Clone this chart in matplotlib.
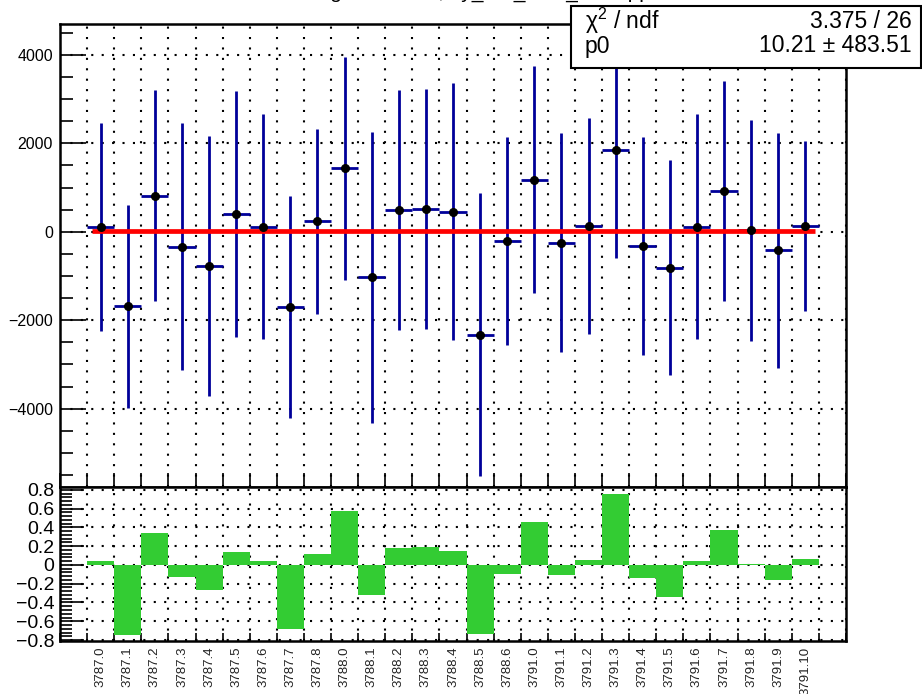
import numpy as np
import matplotlib
matplotlib.use('Agg')
import matplotlib.pyplot as plt
from matplotlib.patches import Rectangle
from matplotlib.ticker import MultipleLocator

plt.rcParams['font.family'] = ['Liberation Sans', 'DejaVu Sans']
plt.rcParams['mathtext.fontset'] = 'custom'
plt.rcParams['mathtext.rm'] = 'Liberation Sans'
plt.rcParams['mathtext.it'] = 'Liberation Sans:italic'

TITLE = "Mean gain vs. run, by_run_mod_ch in pp"

RUN_LABELS = ["3787.0", "3787.1", "3787.2", "3787.3", "3787.4", "3787.5", "3787.6",
              "3787.7", "3787.8", "3788.0", "3788.1", "3788.2", "3788.3", "3788.4",
              "3788.5", "3788.6", "3791.0", "3791.1", "3791.2", "3791.3", "3791.4",
              "3791.5", "3791.6", "3791.7", "3791.8", "3791.9", "3791.10"]
N_BINS = 28

VALUES = [107, -1689, 818, -333, -773, 394, 114, -1697, 235, 1432, -1030, 500, 523, 455,
          -2326, -205, 1182, -242, 136, 1841, -318, -811, 114, 924, 30, -417, 136]
ERRORS = [2349, 2296, 2383, 2784, 2936, 2784, 2542, 2508, 2083, 2519, 3284, 2712, 2712, 2909,
          3197, 2353, 2564, 2474, 2444, 2439, 2466, 2428, 2549, 2485, 2489, 2652, 1917]

# residual / error, one per bin (last bin empty)
PULLS = [0.043, -0.743, 0.341, -0.128, -0.270, 0.142, 0.043, -0.686, 0.114, 0.569, -0.316,
         0.185, 0.192, 0.153, -0.733, -0.096, 0.462, -0.107, 0.057, 0.754, -0.139, -0.338,
         0.046, 0.373, 0.011, -0.164, 0.068, -0.004]

FIT_P0 = 10.21
FIT_P0_ERR = 483.51
CHI2 = 3.375
NDF = 26
FIT_RANGE = [0.17, 26.86]
X_MIN = -1

W, H = 922, 694
fig = plt.figure(figsize=(W / 100, H / 100), dpi=100)

left, right = 60 / W, 846 / W
ax = fig.add_axes([left, 1 - 486.5 / H, right - left, (486.5 - 24) / H])
axr = fig.add_axes([left, 1 - 641 / H, right - left, (641 - 486.5) / H])

x = np.arange(len(VALUES)) + 0.5
edges = np.arange(X_MIN, N_BINS + 1)
grid_kw = dict(color='black', linestyle=(0, (1, 4)), linewidth=1.5)

# top panel: points with errors and the constant fit
ax.errorbar(x, VALUES, yerr=ERRORS, xerr=0.5, fmt='none', ecolor='#000099',
            elinewidth=2, capsize=0, zorder=3)
ax.plot(FIT_RANGE, [FIT_P0, FIT_P0], color='red', lw=3.4, solid_capstyle='butt', zorder=4)
ax.plot(x, VALUES, 'o', color='black', ms=5.5, zorder=5)

ax.set_xlim(X_MIN, N_BINS)
ax.set_ylim(-5760, 4700)
ax.set_xticks(edges)
ax.set_xticklabels([])
ax.yaxis.set_major_locator(MultipleLocator(2000))
ax.yaxis.set_minor_locator(MultipleLocator(500))
ax.tick_params(axis='x', direction='in', length=10, width=1.2, bottom=True, top=False)
ax.tick_params(axis='y', which='major', direction='in', length=19, width=1.2,
               labelsize=11.5, right=False, pad=5)
ax.tick_params(axis='y', which='minor', direction='in', length=9.5, width=1.2, right=False)
ax.grid(True, **grid_kw)
ax.set_axisbelow(True)

# bottom panel: pulls
axr.bar(np.arange(N_BINS) + 0.5, PULLS, width=1.0, color='#33cc33', edgecolor='none',
        zorder=2)
axr.set_xlim(X_MIN, N_BINS)
axr.set_ylim(-0.81, 0.835)
axr.set_xticks(x)
axr.set_xticklabels(RUN_LABELS, rotation=90, fontsize=9.5, va='top', ha='center',
                    color='#222222')
axr.set_xticks(edges, minor=True)
axr.tick_params(axis='x', which='major', length=0, pad=4)
axr.tick_params(axis='x', which='minor', direction='in', length=6, width=1.2, top=False)
axr.yaxis.set_major_locator(MultipleLocator(0.2))
axr.yaxis.set_minor_locator(MultipleLocator(0.04))
axr.yaxis.set_major_formatter(plt.FuncFormatter(
    lambda v, p: '0' if abs(v) < 1e-9 else f"{v:.1f}".replace('-', '\u2212')))
axr.tick_params(axis='y', which='major', direction='in', length=17, width=1.2,
                labelsize=14, right=False, pad=4)
axr.tick_params(axis='y', which='minor', direction='in', length=8.5, width=1.2, right=False)
axr.grid(True, which='minor', axis='x', **grid_kw)
axr.grid(True, which='major', axis='y', **grid_kw)
axr.set_axisbelow(True)

for a in (ax, axr):
    for s in a.spines.values():
        s.set_linewidth(1.8)

# title: sits above the canvas, only its descenders show (as in the reference)
fig.text(0.5, 1 + 2.5 / H, TITLE, ha='center', va='baseline', fontsize=15)

# fit statistics box
fig.add_artist(Rectangle((571 / W, 1 - 68 / H), (921 - 571) / W, (68 - 6) / H,
                         transform=fig.transFigure, facecolor='white',
                         edgecolor='black', lw=1.5, zorder=10))
box_fs = 16.5
fig.text(585 / W, 1 - 21 / H, "\u03c7$^{2}$ / ndf", ha='left', va='center',
         fontsize=box_fs, zorder=11)
fig.text(912 / W, 1 - 21 / H, f"{CHI2:.3f} / {NDF}", ha='right', va='center',
         fontsize=box_fs, zorder=11)
fig.text(585 / W, 1 - 46 / H, "p0", ha='left', va='center', fontsize=box_fs, zorder=11)
fig.text(912 / W, 1 - 46 / H, f"{FIT_P0:.2f} \u00b1 {FIT_P0_ERR:.2f}", ha='right',
         va='center', fontsize=box_fs, zorder=11)

fig.savefig('out.png', dpi=100)
